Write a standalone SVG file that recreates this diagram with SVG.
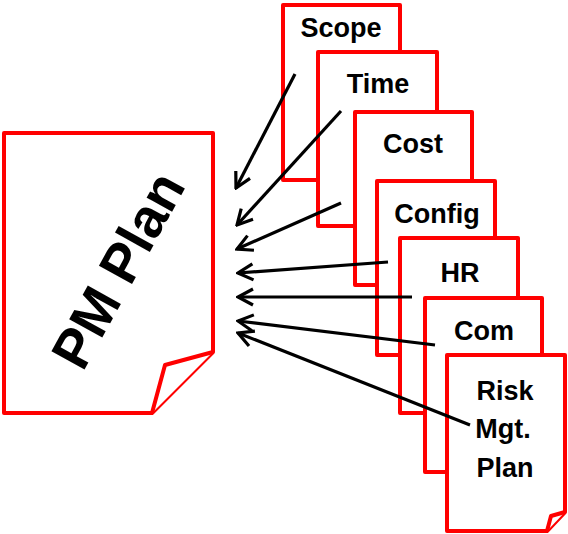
<svg xmlns="http://www.w3.org/2000/svg" width="568" height="534" viewBox="0 0 568 534">
<defs>
<style>
.doc{fill:#fff;stroke:#f00;stroke-width:4;stroke-linejoin:round}
.lbl{font-family:"Liberation Sans",Arial,sans-serif;font-weight:bold;font-size:27px;fill:#000;text-anchor:middle}
.arr{stroke:#000;stroke-width:3.2;fill:none;marker-end:url(#ah)}
</style>
<marker id="ah" viewBox="-18 -10 20 20" refX="0" refY="0" markerWidth="20" markerHeight="20" markerUnits="userSpaceOnUse" orient="auto">
<path d="M-15,-8 L0,0 L-15,8" fill="none" stroke="#000" stroke-width="3.2"/>
</marker>
</defs>
<rect width="568" height="534" fill="#fff"/>
<g id="pm-plan">
<path class="doc" d="M4,133 H213 V352 L152,413 H4 Z"/>
<path class="doc" d="M213,352 L165,365 L152,413"/>
<text class="lbl" style="font-size:55px" transform="translate(118,270) rotate(-61)" dy="19">PM Plan</text>
</g>
<g id="scope">
<rect class="doc" x="283" y="5" width="117" height="175"/>
<text class="lbl" x="341" y="37">Scope</text>
</g>
<g id="time">
<rect class="doc" x="318" y="52" width="119" height="174"/>
<text class="lbl" x="378" y="93">Time</text>
</g>
<g id="cost">
<rect class="doc" x="355" y="112" width="117" height="173"/>
<text class="lbl" x="413" y="153">Cost</text>
</g>
<g id="config">
<rect class="doc" x="377" y="181" width="118" height="174"/>
<text class="lbl" x="437" y="223">Config</text>
</g>
<g id="hr">
<rect class="doc" x="400" y="238" width="118" height="175"/>
<text class="lbl" x="460" y="282">HR</text>
</g>
<g id="com">
<rect class="doc" x="425" y="298" width="117" height="174"/>
<text class="lbl" x="484" y="340">Com</text>
</g>
<g id="risk">
<path class="doc" d="M447,355 H565 V512 L547,531 H447 Z"/>
<path class="doc" d="M565,512 L551,516 L547,531"/>
<text class="lbl" x="505" y="400">Risk</text>
<text class="lbl" x="503" y="438">Mgt.</text>
<text class="lbl" x="505" y="477">Plan</text>
</g>
<g id="connectors">
<line class="arr" x1="295" y1="74" x2="236" y2="188"/>
<line class="arr" x1="341" y1="111" x2="237" y2="225"/>
<line class="arr" x1="341" y1="203" x2="237" y2="249"/>
<line class="arr" x1="388" y1="262" x2="238" y2="273"/>
<line class="arr" x1="412" y1="297" x2="238" y2="297"/>
<line class="arr" x1="435" y1="345" x2="238" y2="321"/>
<line class="arr" x1="470" y1="425" x2="238" y2="333"/>
</g>
</svg>
